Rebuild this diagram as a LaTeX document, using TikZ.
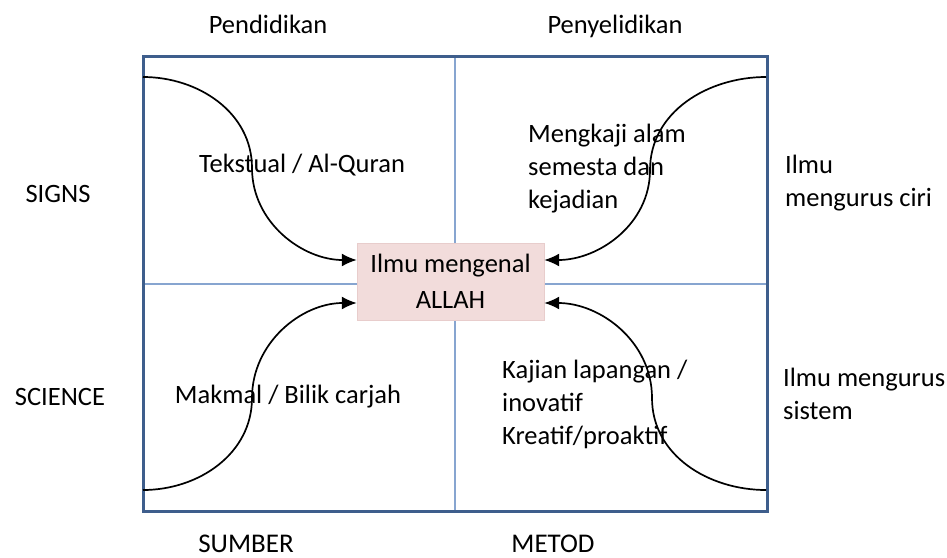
\documentclass[tikz,border=0pt]{standalone}
\usepackage{fontspec}
\setmainfont{Carlito}
\usetikzlibrary{arrows.meta}

\definecolor{frameblue}{RGB}{62,94,140}
\definecolor{gridblue}{RGB}{135,165,208}
\definecolor{boxpink}{RGB}{242,220,219}
\definecolor{boxedge}{RGB}{232,205,204}

\tikzset{
    lbl/.style={inner sep=0pt, font=\fontsize{26.5}{33}\selectfont},
    flow/.style={line width=1.7pt, -{Latex[length=15pt, width=13pt]}},
}

\begin{document}
\begin{tikzpicture}[x=1pt, y=-1pt]
    \useasboundingbox (0,0) rectangle (947,557);
    \coordinate (A1) at (143, 56);
    \coordinate (A2) at (767, 56);
    \coordinate (A3) at (767, 511);
    \coordinate (A4) at (143, 511);
    \coordinate (M1) at (455, 56);
    \coordinate (M2) at (455, 511);
    \coordinate (M3) at (143, 284);
    \coordinate (M4) at (767, 284);
    \coordinate (S1) at (143, 77);
    \coordinate (S2) at (766, 77);
    \coordinate (S3) at (143, 490);
    \coordinate (S4) at (766, 490);
    \coordinate (C1) at (252, 168);
    \coordinate (C2) at (650, 170);
    \coordinate (C3) at (252, 398);
    \coordinate (C4) at (652, 398);

    \draw[gridblue, line width=1.3pt] (M1) -- (M2); % middle column
    \draw[gridblue, line width=1.3pt] (M3) -- (M4); % middle row
    \draw[frameblue, line width=3pt] (A1) -- (A2) -- (A3) -- (A4) -- cycle; % frame

    \node[lbl, fill=boxpink, draw=boxedge, minimum width=187pt, minimum height=77pt, align=center] (allah) at (450.5, 281.5) {Ilmu mengenal\\[3pt]ALLAH};

    \draw[flow] (S1) to[out=0, in=90] (C1) to[out=-90, in=180] ([yshift=21.5pt]allah.west); % top left
    \draw[flow] (S2) to[out=180, in=90] (C2) to[out=-90, in=0] ([yshift=21.5pt]allah.east); % top right
    \draw[flow] (S3) to[out=0, in=-90] (C3) to[out=90, in=180] ([yshift=-21.5pt]allah.west); % bottom left
    \draw[flow] (S4) to[out=180, in=-90] (C4) to[out=90, in=0] ([yshift=-21.5pt]allah.east); % bottom right

    \node[lbl, anchor=base] (pend) at (268, 33) {Pendidikan};
    \node[lbl, anchor=base] (peny) at (615, 33) {Penyelidikan};
    \node[lbl, anchor=base] (signs) at (58, 202) {SIGNS};
    \node[lbl, anchor=base] (science) at (60, 405) {SCIENCE};
    \node[lbl, anchor=base, font=\fontsize{27}{33}\selectfont] (sumber) at (246, 552) {SUMBER};
    \node[lbl, anchor=base, font=\fontsize{27}{33}\selectfont] (metod) at (553, 552) {METOD};

    \node[lbl, anchor=base] (tekstual) at (302, 172) {Tekstual / Al-Quran};
    \node[lbl, anchor=base] (makmal) at (288, 403) {Makmal / Bilik carjah};
    \node[lbl, anchor=north west, align=left] (mengkaji) at (528, 124) {Mengkaji alam\\semesta dan\\kejadian};
    \node[lbl, anchor=north west, align=left] (kajian) at (502, 360) {Kajian lapangan /\\inovatif\\Kreatif/proaktif};
    \node[lbl, anchor=north west, align=left] (ciri) at (785, 155) {Ilmu\\mengurus ciri};
    \node[lbl, anchor=north west, align=left] (sistem) at (783, 368) {Ilmu mengurus\\sistem};
\end{tikzpicture}
\end{document}
